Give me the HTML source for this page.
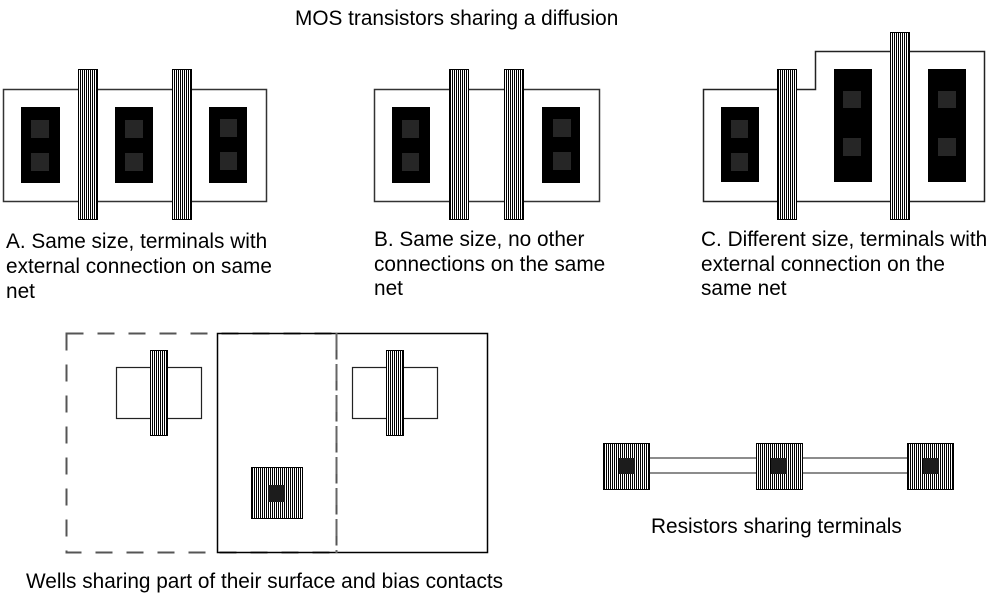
<!DOCTYPE html>
<html>
<head>
<meta charset="utf-8">
<style>
html,body{margin:0;padding:0;background:#fff;}
svg{display:block;}
text{font-family:"Liberation Sans",Arial,sans-serif;font-size:20.8px;fill:#000;}
</style>
</head>
<body>
<svg width="1005" height="610" viewBox="0 0 1005 610" xmlns="http://www.w3.org/2000/svg">
<defs>
<pattern id="h" patternUnits="userSpaceOnUse" width="2" height="4">
<rect x="0" y="0" width="2" height="4" fill="#fff"/>
<rect x="0" y="0" width="1" height="4" fill="#000"/>
</pattern>
</defs>

<text x="295" y="25">MOS transistors sharing a diffusion</text>

<!-- A -->
<rect x="3.5" y="89.5" width="263" height="112" fill="#fff" stroke="#333" stroke-width="1.5"/>
<rect x="21" y="107" width="39" height="76" fill="#000"/>
<rect x="31" y="120" width="18" height="18" fill="#262626"/>
<rect x="31" y="153" width="18" height="18" fill="#262626"/>
<rect x="115" y="107" width="38" height="76" fill="#000"/>
<rect x="125" y="120" width="18" height="18" fill="#262626"/>
<rect x="125" y="153" width="18" height="18" fill="#262626"/>
<rect x="209" y="107" width="38" height="76" fill="#000"/>
<rect x="220" y="119" width="17" height="18" fill="#262626"/>
<rect x="220" y="152" width="17" height="18" fill="#262626"/>
<rect x="78.5" y="69.5" width="19" height="150" fill="url(#h)" stroke="#000" stroke-width="1"/>
<rect x="172.5" y="69.5" width="19" height="150" fill="url(#h)" stroke="#000" stroke-width="1"/>

<text x="6" y="248">A. Same size, terminals with</text>
<text x="6" y="273">external connection on same</text>
<text x="6" y="298">net</text>

<!-- B -->
<rect x="374.5" y="89.5" width="225" height="112" fill="#fff" stroke="#333" stroke-width="1.5"/>
<rect x="392" y="107" width="38" height="76" fill="#000"/>
<rect x="402" y="120" width="17" height="18" fill="#262626"/>
<rect x="402" y="153" width="17" height="18" fill="#262626"/>
<rect x="542" y="107" width="38" height="76" fill="#000"/>
<rect x="553" y="119" width="18" height="18" fill="#262626"/>
<rect x="553" y="152" width="18" height="18" fill="#262626"/>
<rect x="449.5" y="69.5" width="19" height="150" fill="url(#h)" stroke="#000" stroke-width="1"/>
<rect x="504.5" y="69.5" width="19" height="150" fill="url(#h)" stroke="#000" stroke-width="1"/>

<text x="374" y="246">B. Same size, no other</text>
<text x="374" y="271">connections on the same</text>
<text x="374" y="295">net</text>

<!-- C -->
<polygon points="703.5,89.5 815.5,89.5 815.5,51.5 984.5,51.5 984.5,201.5 703.5,201.5" fill="#fff" stroke="#222" stroke-width="1.5"/>
<rect x="721" y="107" width="38" height="75" fill="#000"/>
<rect x="731" y="120" width="17" height="18" fill="#262626"/>
<rect x="731" y="153" width="17" height="18" fill="#262626"/>
<rect x="834" y="69" width="38" height="113" fill="#000"/>
<rect x="843" y="91" width="18" height="17" fill="#262626"/>
<rect x="843" y="138" width="18" height="18" fill="#262626"/>
<rect x="928" y="69" width="38" height="113" fill="#000"/>
<rect x="938" y="91" width="18" height="17" fill="#262626"/>
<rect x="938" y="138" width="18" height="18" fill="#262626"/>
<rect x="777.5" y="69.5" width="19" height="150" fill="url(#h)" stroke="#000" stroke-width="1"/>
<rect x="890.5" y="32.5" width="19" height="187" fill="url(#h)" stroke="#000" stroke-width="1"/>

<text x="701" y="246">C. Different size, terminals with</text>
<text x="701" y="271">external connection on the</text>
<text x="701" y="295">same net</text>

<!-- Wells -->
<rect x="66.5" y="333.5" width="270" height="219" fill="none" stroke="#555" stroke-width="2" stroke-dasharray="17 14"/>
<rect x="217.5" y="333.5" width="270" height="219" fill="none" stroke="#000" stroke-width="1.5"/>
<line x1="336.5" y1="333" x2="336.5" y2="553" stroke="#666" stroke-width="2" stroke-dasharray="17 14"/>

<rect x="116.5" y="367.5" width="85" height="51" fill="#fff" stroke="#222" stroke-width="1.2"/>
<rect x="150.5" y="350.5" width="17" height="85" fill="url(#h)" stroke="#000" stroke-width="1"/>

<rect x="352.5" y="367.5" width="85" height="51" fill="#fff" stroke="#222" stroke-width="1.2"/>
<rect x="386.5" y="350.5" width="17" height="85" fill="url(#h)" stroke="#000" stroke-width="1"/>

<rect x="251.5" y="467.5" width="51" height="51" fill="url(#h)" stroke="#000" stroke-width="1"/>
<rect x="268" y="485" width="17" height="17" fill="#1c1c1c"/>

<text x="26" y="588">Wells sharing part of their surface and bias contacts</text>

<!-- Resistors -->
<line x1="650" y1="458" x2="756" y2="458" stroke="#666" stroke-width="1.6"/>
<line x1="650" y1="473" x2="756" y2="473" stroke="#666" stroke-width="1.6"/>
<line x1="802" y1="458" x2="907" y2="458" stroke="#666" stroke-width="1.6"/>
<line x1="802" y1="473" x2="907" y2="473" stroke="#666" stroke-width="1.6"/>

<rect x="603.5" y="443.5" width="46" height="46" fill="url(#h)" stroke="#000" stroke-width="1"/>
<rect x="619" y="458" width="16" height="16" fill="#1c1c1c"/>
<rect x="756.5" y="443.5" width="46" height="46" fill="url(#h)" stroke="#000" stroke-width="1"/>
<rect x="771" y="458" width="16" height="16" fill="#1c1c1c"/>
<rect x="907.5" y="443.5" width="46" height="46" fill="url(#h)" stroke="#000" stroke-width="1"/>
<rect x="923" y="458" width="16" height="16" fill="#1c1c1c"/>

<text x="651" y="533">Resistors sharing terminals</text>
</svg>
</body>
</html>
